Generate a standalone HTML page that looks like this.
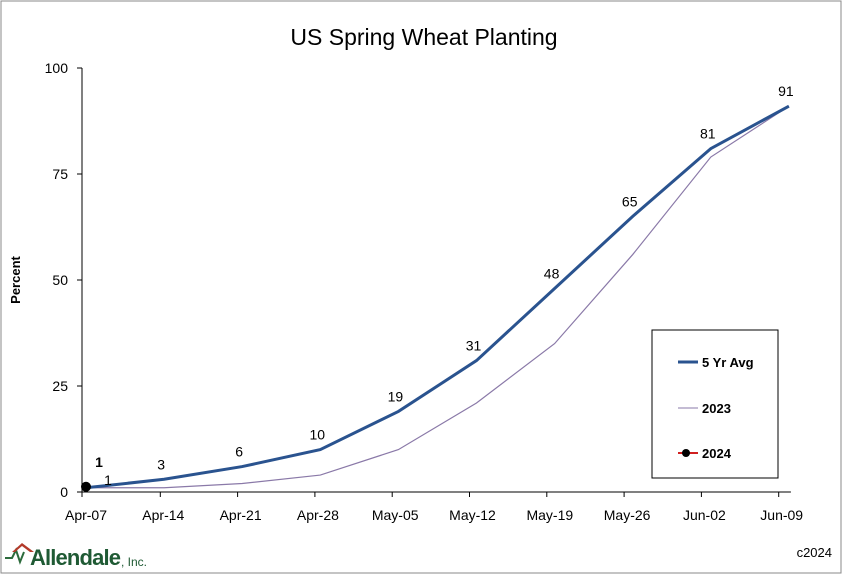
<!DOCTYPE html>
<html><head><meta charset="utf-8"><style>
body{margin:0;background:#fff;font-family:"Liberation Sans",sans-serif}
svg text{font-family:"Liberation Sans",sans-serif}
</style></head><body>
<svg width="843" height="575">
<rect x="1" y="1" width="840" height="572" fill="#fff" stroke="#888"/>
<text x="424" y="45" font-size="23" text-anchor="middle" fill="#000">US Spring Wheat Planting</text>
<text transform="translate(20,280) rotate(-90)" font-size="13" font-weight="bold" text-anchor="middle">Percent</text>
<g id="axes"></g>
<g id="marks"></g>
<g>
<rect x="652" y="330" width="126" height="148" fill="#fff" stroke="#000"/>
<line x1="678" y1="362" x2="698" y2="362" stroke="#2a538f" stroke-width="3"/>
<text x="702" y="367" font-size="13" font-weight="bold">5 Yr Avg</text>
<line x1="678" y1="408" x2="698" y2="408" stroke="#8a79a8" stroke-width="1"/>
<text x="702" y="413" font-size="13" font-weight="bold">2023</text>
<line x1="678" y1="453" x2="698" y2="453" stroke="#d02020" stroke-width="2"/>
<circle cx="686" cy="453" r="4" fill="#000"/>
<text x="702" y="458" font-size="13" font-weight="bold">2024</text>
</g>
<g>
<polyline points="5,558 12,558 16,550 20,562 24,552" fill="none" stroke="#2c6b3c" stroke-width="2"/>
<polygon points="12,552 22,543 34,552 30,552 22,546 15,552" fill="#b33a2a"/>
<text x="30" y="565" font-size="22" font-weight="bold" fill="#1f5a34" letter-spacing="-1" textLength="90">Allendale</text>
<text x="121" y="566" font-size="12" fill="#1f5a34">, Inc.</text>
</g>
<text x="832" y="557" font-size="13" text-anchor="end">c2024</text>
</svg>
<script>
const categories=["Apr-07","Apr-14","Apr-21","Apr-28","May-05","May-12","May-19","May-26","Jun-02","Jun-09"];
const avg5=[1,3,6,10,19,31,48,65,81,91];
const y2023=[1,1,2,4,10,21,35,56,79,91];
const y2024=[1];
const yTicks=[0,25,50,75,100];
const NS="http://www.w3.org/2000/svg";
const X=i=>86+i*78.1, Y=v=>492-v*4.24, XL=i=>86+i*77.3;
const axes=document.getElementById('axes'), marks=document.getElementById('marks');
function mk(tag,attrs,parent,txt){const e=document.createElementNS(NS,tag);for(const k in attrs)e.setAttribute(k,attrs[k]);if(txt!=null)e.textContent=txt;parent.appendChild(e);return e;}
let e=mk('line',{x1:82,y1:Y(100),x2:82,y2:Y(0),stroke:'#000'},axes);


e=mk('line',{x1:82,y1:Y(0),x2:X(9)+2,y2:Y(0),stroke:'#000'},axes);


yTicks.forEach(t=>{
 mk('line',{x1:77,y1:Y(t),x2:82,y2:Y(t),stroke:'#000'},axes);
 e=mk('text',{x:68,y:Y(t)+5,'font-size':14,'text-anchor':'end'},axes,t);
 
 
});
categories.forEach((c,i)=>{
 const x=i==0?82:XL(i)-3;
 mk('line',{x1:x,y1:Y(0),x2:x,y2:Y(0)+5,stroke:'#000'},axes);
 e=mk('text',{x:XL(i),y:520,'font-size':14,'text-anchor':'middle'},axes,c);
 
 
});
e=mk('polyline',{points:y2023.map((v,i)=>X(i)+','+Y(v)).join(' '),fill:'none',stroke:'#8a79a8','stroke-width':1.2},marks);


e=mk('polyline',{points:avg5.map((v,i)=>X(i)+','+Y(v)).join(' '),fill:'none',stroke:'#2a538f','stroke-width':3},marks);


avg5.forEach((v,i)=>{
 e=mk('text',{x:X(i)+(i==0?22:-3),y:Y(v)-(i==0?3:10),'font-size':14,'text-anchor':'middle'},marks,v);
 
 
});
y2024.forEach((v,i)=>{
 e=mk('circle',{cx:X(i),cy:Y(v)-1,r:5,fill:'#000'},marks);
 
 
 e=mk('text',{x:X(i)+13,y:Y(v)-21,'font-size':14,'font-weight':'bold','text-anchor':'middle'},marks,v);
 
 
});
</script>
</body></html>
